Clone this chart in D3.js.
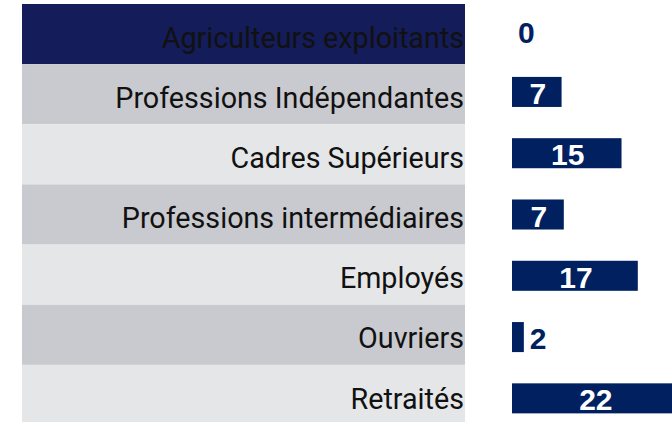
<!DOCTYPE html>
<html>
<head>
<meta charset="utf-8">
<script src="https://cdn.jsdelivr.net/npm/d3@7"></script>
<style>
  html, body { margin: 0; padding: 0; background: #ffffff; }
  svg { display: block; }
</style>
</head>
<body>
<svg id="chart" width="672" height="422"></svg>
<script>
const categories = [
  "Agriculteurs exploitants",
  "Professions Indépendantes",
  "Cadres Supérieurs",
  "Professions intermédiaires",
  "Employés",
  "Ouvriers",
  "Retraités"
];
const values = [0, 6.7, 14.8, 7.0, 17.0, 1.6, 22.4];
const valueLabels = ["0", "7", "15", "7", "17", "2", "22"];
const rowColors = ["#141c5a", "#c9cacf", "#e5e6e8", "#c9cacf", "#e5e6e8", "#c9cacf", "#e5e6e8"];

const W = 672, H = 422;
const svg = d3.select("#chart");

// Left table of categories
const rowY = d3.scaleBand().domain(categories).range([4, 425]).padding(0);
const panelX0 = 22, panelX1 = 465;

const rows = svg.append("g").attr("class", "rows");
rows.selectAll("rect")
  .data(categories)
  .join("rect")
  .attr("x", panelX0)
  .attr("y", d => rowY(d))
  .attr("width", panelX1 - panelX0)
  .attr("height", rowY.bandwidth())
  .attr("fill", (d, i) => rowColors[i]);

rows.selectAll("text")
  .data(categories)
  .join("text")
  .attr("x", panelX1 - 1)
  .attr("y", d => rowY(d) + rowY.bandwidth() / 2 + 13.7)
  .attr("text-anchor", "end")
  .attr("font-family", "Roboto, 'Noto Sans', sans-serif")
  .attr("font-weight", 400)
  .attr("font-size", 28.7)
  .attr("fill", "#111111")
  .text(d => d);

// Bars
const x = d3.scaleLinear().domain([0, 25]).range([512, 697]);
const y = d3.scaleBand().domain(categories).range([0, 429]).paddingInner(0.51).paddingOuter(0.255);
const barColor = "#002060";

const bars = svg.append("g").attr("class", "bars");
bars.selectAll("rect")
  .data(categories)
  .join("rect")
  .attr("x", x(0))
  .attr("y", d => y(d))
  .attr("width", (d, i) => x(values[i]) - x(0))
  .attr("height", y.bandwidth())
  .attr("fill", barColor);

bars.selectAll("text")
  .data(categories)
  .join("text")
  .each(function (d, i) {
    const inside = (x(values[i]) - x(0)) > 30;
    const t = d3.select(this);
    const cy = y(d) + y.bandwidth() / 2;
    if (inside) {
      t.attr("x", (x(0) + x(values[i])) / 2 + 1).attr("text-anchor", "middle").attr("fill", "#ffffff");
    } else {
      t.attr("x", x(values[i]) + 6).attr("text-anchor", "start").attr("fill", barColor);
    }
    t.attr("y", cy + 12);
  })
  .attr("font-family", "'Liberation Sans', Arial, sans-serif")
  .attr("font-weight", 700)
  .attr("font-size", 30)
  .text((d, i) => valueLabels[i]);
</script>
</body>
</html>
